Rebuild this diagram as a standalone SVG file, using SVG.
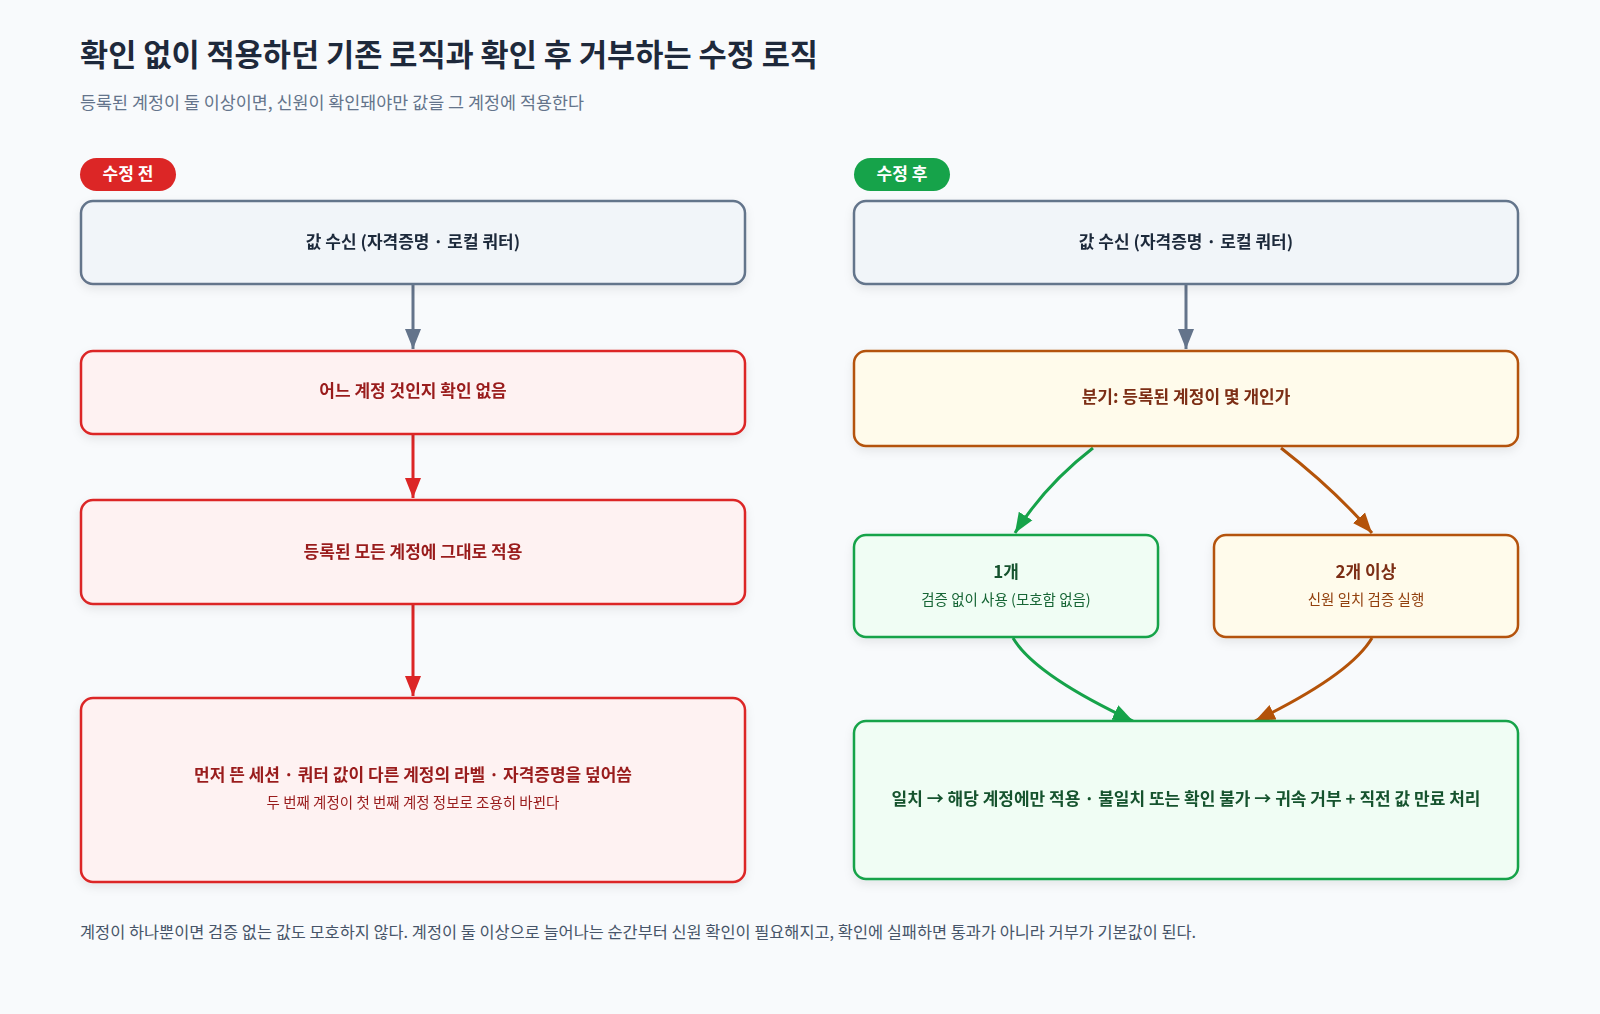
<svg xmlns="http://www.w3.org/2000/svg" width="1600" height="1014" viewBox="0 0 1600 1014">
<style>
text{font-family:"Noto Sans CJK KR","Noto Sans",sans-serif}
.t{font-size:17px;font-weight:700;text-anchor:middle}
.s{font-size:14.5px;text-anchor:middle}
.g rect{fill:#f1f5f9;stroke:#64748b;stroke-width:2.5}
.r rect{fill:#fef2f2;stroke:#dc2626;stroke-width:2.5}
.o rect{fill:#fffbeb;stroke:#b45309;stroke-width:2.5}
.n rect{fill:#f0fdf4;stroke:#16a34a;stroke-width:2.5}
.box{filter:url(#sh)}
</style>
<defs>
<filter id="sh" x="-10%" y="-20%" width="120%" height="150%"><feDropShadow dx="0" dy="4" stdDeviation="5" flood-color="#0f172a" flood-opacity="0.08"/></filter>
<marker id="ar" viewBox="0 0 20 20" refX="20" refY="10" markerWidth="20" markerHeight="20" orient="auto" markerUnits="userSpaceOnUse"><path d="M0,2L20,10L0,18z" fill="#dc2626"/></marker>
<marker id="agr" viewBox="0 0 20 20" refX="20" refY="10" markerWidth="20" markerHeight="20" orient="auto" markerUnits="userSpaceOnUse"><path d="M0,2L20,10L0,18z" fill="#64748b"/></marker>
<marker id="an" viewBox="0 0 20 20" refX="20" refY="10" markerWidth="20" markerHeight="20" orient="auto" markerUnits="userSpaceOnUse"><path d="M0,2L20,10L0,18z" fill="#16a34a"/></marker>
<marker id="ao" viewBox="0 0 20 20" refX="20" refY="10" markerWidth="20" markerHeight="20" orient="auto" markerUnits="userSpaceOnUse"><path d="M0,2L20,10L0,18z" fill="#b45309"/></marker>
</defs>
<rect width="1600" height="1014" fill="#f8fafc"/>
<text x="80" y="66" font-size="30.6" font-weight="700" fill="#1e293b">확인 없이 적용하던 기존 로직과 확인 후 거부하는 수정 로직</text>
<text x="80" y="109" font-size="17.4" fill="#64748b">등록된 계정이 둘 이상이면, 신원이 확인돼야만 값을 그 계정에 적용한다</text>
<g id="badge-before"><rect x="80" y="158" width="96" height="33" rx="16.5" fill="#dc2626"/><text x="128" y="180" class="t" fill="#fff">수정 전</text></g>
<g id="badge-after"><rect x="854" y="158" width="96" height="33" rx="16.5" fill="#16a34a"/><text x="902" y="180" class="t" fill="#fff">수정 후</text></g>
<g id="connectors" fill="none" stroke-width="3">
<path d="M413 284V349" stroke="#64748b" marker-end="url(#agr)"/>
<path d="M413 434V498" stroke="#dc2626" marker-end="url(#ar)"/>
<path d="M413 604V696" stroke="#dc2626" marker-end="url(#ar)"/>
<path d="M1186 284V349" stroke="#64748b" marker-end="url(#agr)"/>
<path d="M1093 448Q1045 485 1015 533" stroke="#16a34a" marker-end="url(#an)"/>
<path d="M1281 448Q1335 490 1372 533" stroke="#b45309" marker-end="url(#ao)"/>
<path d="M1013 638Q1035 675 1133 721" stroke="#16a34a" marker-end="url(#an)"/>
<path d="M1372 638Q1350 675 1255 721" stroke="#b45309" marker-end="url(#ao)"/>
</g>
<g id="l1" class="box g"><rect x="81" y="201" width="664" height="83" rx="12"/><text x="413" y="248" class="t" fill="#1e293b">값 수신 (자격증명 · 로컬 쿼터)</text></g>
<g id="l2" class="box r"><rect x="81" y="351" width="664" height="83" rx="12"/><text x="413" y="397" class="t" fill="#991b1b">어느 계정 것인지 확인 없음</text></g>
<g id="l3" class="box r"><rect x="81" y="500" width="664" height="104" rx="12"/><text x="413" y="558" class="t" font-size="19" fill="#991b1b">등록된 모든 계정에 그대로 적용</text></g>
<g id="l4" class="box r"><rect x="81" y="698" width="664" height="184" rx="12"/><text x="413" y="781" class="t" fill="#991b1b">먼저 뜬 세션 · 쿼터 값이 다른 계정의 라벨 · 자격증명을 덮어씀</text><text x="413" y="808" class="s" fill="#991b1b">두 번째 계정이 첫 번째 계정 정보로 조용히 바뀐다</text></g>
<g id="r1" class="box g"><rect x="854" y="201" width="664" height="83" rx="12"/><text x="1186" y="248" class="t" fill="#1e293b">값 수신 (자격증명 · 로컬 쿼터)</text></g>
<g id="r2" class="box o"><rect x="854" y="351" width="664" height="95" rx="12"/><text x="1186" y="403" class="t" fill="#7c2d12">분기: 등록된 계정이 몇 개인가</text></g>
<g id="r3" class="box n"><rect x="854" y="535" width="304" height="102" rx="12"/><text x="1006" y="578" class="t" fill="#14532d">1개</text><text x="1006" y="605" class="s" fill="#166534">검증 없이 사용 (모호함 없음)</text></g>
<g id="r4" class="box o"><rect x="1214" y="535" width="304" height="102" rx="12"/><text x="1366" y="578" class="t" fill="#7c2d12">2개 이상</text><text x="1366" y="605" class="s" fill="#92400e">신원 일치 검증 실행</text></g>
<g id="r5" class="box n"><rect x="854" y="721" width="664" height="158" rx="12"/><text x="1186" y="805" class="t" fill="#14532d">일치 → 해당 계정에만 적용 · 불일치 또는 확인 불가 → 귀속 거부 + 직전 값 만료 처리</text></g>
<text x="80" y="938" font-size="16.4" fill="#475569">계정이 하나뿐이면 검증 없는 값도 모호하지 않다. 계정이 둘 이상으로 늘어나는 순간부터 신원 확인이 필요해지고, 확인에 실패하면 통과가 아니라 거부가 기본값이 된다.</text>
</svg>
